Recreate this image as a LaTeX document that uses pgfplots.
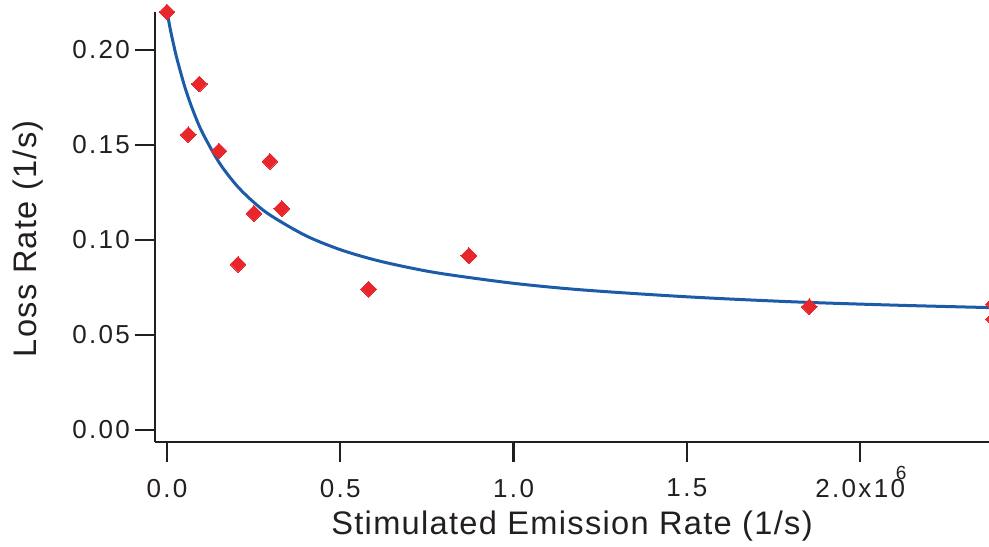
\documentclass[border=0pt]{standalone}
\usepackage{fontspec}
\setmainfont{Liberation Sans}
\newfontfamily\tickfont{Liberation Sans}[LetterSpace=9]
\newfontfamily\labfont{Liberation Sans}[LetterSpace=4]
\usepackage{pgfplots}
\pgfplotsset{compat=1.18}
\definecolor{mred}{HTML}{E8272C}
\definecolor{mblue}{HTML}{1C5BA8}
\definecolor{axcol}{HTML}{231F20}
\begin{document}
\begin{tikzpicture}
\path[use as bounding box] (-77.5pt,-52pt) rectangle (417pt,221pt);
\clip (-77.5pt,-52pt) rectangle (417pt,221pt);
\begin{axis}[
  at={(0pt,0pt)}, anchor=south west,
  scale only axis, width=417pt, height=221pt,
  xmin=-0.0346, xmax=2.3716, ymin=-0.00632, ymax=0.2263,
  axis lines*=left, axis line style={draw=none},
  clip=false,
  tick align=outside, major tick length=10pt,
  tick style={axcol, line width=1.2pt},
  xtick={0,0.5,1,1.5,2},
  xticklabels={0.0,0.5,1.0,1.5,{2.0x10\rlap{\smash{\hspace{-0.35em}\raisebox{0.68em}{\fontsize{9.5}{10}\selectfont 6}}}}},
  ytick={0,0.05,0.1,0.15,0.2},
  yticklabels={0.00,0.05,0.10,0.15,0.20},
  ticklabel style={font=\tickfont\fontsize{13}{15}\selectfont, text=axcol},
  yticklabel style={xshift=1pt},
  xticklabel style={yshift=-5pt},
  xlabel={Stimulated Emission Rate (1/s)},
  ylabel={Loss Rate (1/s)},
  label style={font=\labfont\fontsize{16.3}{19}\selectfont, text=axcol},
  xlabel style={at={(axis description cs:0.5,-0.19)}, anchor=center},
  ylabel style={at={(axis description cs:-0.152,0.46)}, anchor=center},
]
\draw[axcol, line width=1.35pt] (rel axis cs:0,0) -- (rel axis cs:1,0);
\draw[axcol, line width=1.35pt] (axis cs:-0.0346,-0.00632) -- (axis cs:-0.0346,0.22);
\addplot[mblue, line width=1.5pt, smooth, no marks] coordinates {
(0,0.2200) (0.01,0.2105) (0.02,0.2021) (0.03,0.1945) (0.05,0.1814) (0.07,0.1706)
(0.1,0.1573) (0.15,0.1409) (0.2,0.1289) (0.25,0.1199) (0.3,0.1128) (0.4,0.1023)
(0.5,0.0949) (0.6,0.0895) (0.7,0.0854) (0.8,0.0821) (1.0,0.0772) (1.2,0.0737)
(1.5,0.0701) (1.8,0.0675) (2.1,0.0657) (2.4,0.0643)
};
\addplot[only marks, mark=square*, mark size=2.8pt, mark options={rotate=45, fill=mred, draw=mred, line width=0pt}] coordinates {
(0,0.2200) (0.0932,0.1821) (0.0615,0.1554) (0.150,0.1468) (0.297,0.1414)
(0.251,0.1140) (0.331,0.1165) (0.205,0.0872) (0.582,0.0741) (0.871,0.0917)
(1.853,0.0649) (2.385,0.0663) (2.385,0.0583)
};
\end{axis}
\end{tikzpicture}
\end{document}
